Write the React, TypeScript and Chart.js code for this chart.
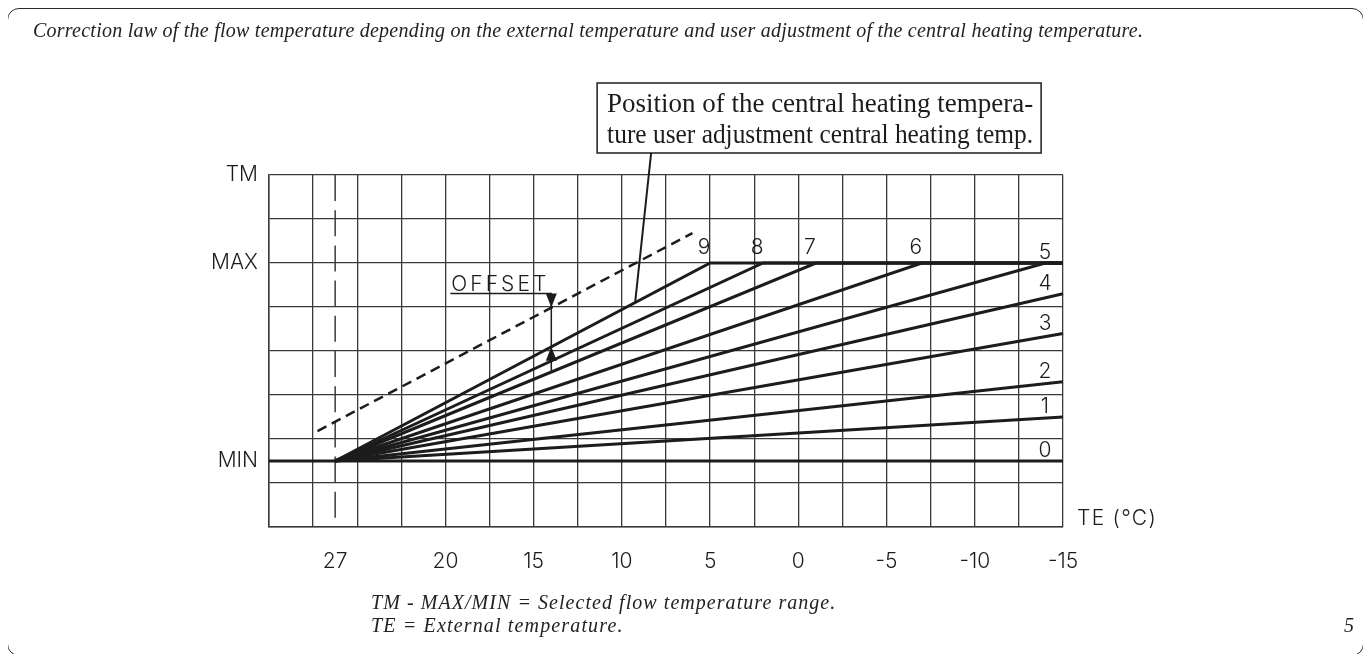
import React, { useEffect, useRef } from 'react';
import { Chart, registerables } from 'chart.js';

Chart.register(...registerables);

// ---------------- data ----------------
const TE_AXIS_MIN = -15;
const TE_AXIS_MAX = 30;
const TE_GRID_STEP = 2.5;
const TE_TICK_VALUES = [26.25, 20, 15, 10, 5, 0, -5, -10, -15];
const TE_TICK_LABELS = ['27', '20', '15', '10', '5', '0', '-5', '-10', '-15'];

const TM_AXIS_MIN = 0;
const TM_AXIS_MAX = 8;
const TM_TICK_VALUES = [8, 6, 1.5];
const TM_TICK_LABELS = ['TM', 'MAX', 'MIN'];

const CURVE_NAMES = ['0', '1', '2', '3', '4', '5', '6', '7', '8', '9'];
const START_TE = 26.25; // the "27" origin of all curves
const MIN_TM = 1.5;
const MAX_TM = 6;
const LOW_CURVE_END_TM = [1.5, 2.5, 3.3, 4.4, 5.3]; // curves 0-4 at TE = -15
const HIGH_CURVE_KNEE_TE = [-14, -7, -1, 2, 5]; // curves 5-9 reach MAX here
const OFFSET_LINE_TE = [27.25, 6];
const OFFSET_LINE_TM = [2.18, 6.68];
const OFFSET_MARK_TE = 14;
const CALLOUT_TE = 9.25;

const CALLOUT_LINES = [
  'Position of the central heating tempera-',
  'ture user adjustment central heating temp.',
];
const TITLE =
  'Correction law of the flow temperature depending on the external temperature and user adjustment of the central heating temperature.';
const NOTES = ['TM - MAX/MIN = Selected flow temperature range.', 'TE = External temperature.'];
const PAGE_NUMBER = '5';
const X_UNIT = 'TE (°C)';
const OFFSET_LABEL = 'OFFSET';

// ---------------- derived series ----------------
type P = { x: number; y: number };
const CURVES: P[][] = CURVE_NAMES.map((_, i) => {
  if (i === 0) return [{ x: TE_AXIS_MAX, y: MIN_TM }, { x: TE_AXIS_MIN, y: LOW_CURVE_END_TM[0] }];
  if (i < 5) return [{ x: START_TE, y: MIN_TM }, { x: TE_AXIS_MIN, y: LOW_CURVE_END_TM[i] }];
  return [
    { x: START_TE, y: MIN_TM },
    { x: HIGH_CURVE_KNEE_TE[i - 5], y: MAX_TM },
    { x: TE_AXIS_MIN, y: MAX_TM },
  ];
});
const OFFSET_LINE: P[] = OFFSET_LINE_TE.map((x, i) => ({ x, y: OFFSET_LINE_TM[i] }));
const START_MARK: P[] = [{ x: START_TE, y: TM_AXIS_MAX }, { x: START_TE, y: TM_AXIS_MIN }];

// ---------------- styles ----------------
const INK = '#1c1c1c';
const GRID = '#3a3a3a';
const SANS_FAMILY = 'Inter, "DejaVu Sans", sans-serif';
const SANS = `300 21px ${SANS_FAMILY}`;
const SERIF = '"Liberation Serif", "DejaVu Serif", serif';

const near = (a: number, b: number) => Math.abs(a - b) < 1e-6;

function interp(pts: P[], v: number): number {
  for (let i = 0; i < pts.length - 1; i++) {
    const a = pts[i], b = pts[i + 1];
    const lo = Math.min(a.x, b.x), hi = Math.max(a.x, b.x);
    if (v >= lo && v <= hi) {
      const t = (v - a.x) / (b.x - a.x);
      return a.y + t * (b.y - a.y);
    }
  }
  return pts[pts.length - 1].y;
}

function fitText(ctx: CanvasRenderingContext2D, text: string, x: number, y: number, width: number) {
  const w = ctx.measureText(text).width;
  ctx.save();
  ctx.translate(x, y);
  ctx.scale(width / w, 1);
  ctx.fillText(text, 0, 0);
  ctx.restore();
}

function spacedText(ctx: CanvasRenderingContext2D, text: string, x: number, y: number, width: number) {
  ctx.save();
  (ctx as any).letterSpacing = '0px';
  const w = ctx.measureText(text).width;
  const ls = (width - w) / text.length;
  (ctx as any).letterSpacing = `${ls}px`;
  ctx.fillText(text, x, y);
  ctx.restore();
}

const annotatePlugin = {
  id: 'annotate',
  afterDatasetsDraw(chart: any) {
    const { ctx, chartArea } = chart;
    const xs = chart.scales.x;
    const ys = chart.scales.y;
    const px = (v: number) => xs.getPixelForValue(v);
    const py = (v: number) => ys.getPixelForValue(v);
    ctx.save();
    ctx.fillStyle = INK;
    ctx.strokeStyle = INK;

    // curve numbers
    ctx.font = SANS;
    ctx.textAlign = 'center';
    ctx.textBaseline = 'middle';
    CURVES.forEach((pts, i) => {
      const atEnd = i <= 5;
      const a = atEnd ? pts[pts.length - 1] : pts[1];
      ctx.fillText(CURVE_NAMES[i], px(a.x) + (atEnd ? -18 : -6), py(a.y) + (atEnd ? -10 : -15));
    });

    // axis unit
    ctx.textAlign = 'left';
    spacedText(ctx, X_UNIT, chartArea.right + 14, chartArea.bottom - 8, 80);

    // OFFSET dimension
    const ax = px(OFFSET_MARK_TE);
    const tipTop = py(interp(OFFSET_LINE, OFFSET_MARK_TE));
    const tipBot = py(interp(CURVES[9], OFFSET_MARK_TE));
    const head = 14;
    const half = 5.5;
    const lineY = tipTop - head;
    ctx.lineWidth = 1.5;
    ctx.beginPath();
    ctx.moveTo(ax - 101, lineY);
    ctx.lineTo(ax, lineY);
    ctx.lineTo(ax, tipBot + 24);
    ctx.stroke();
    ctx.beginPath();
    ctx.moveTo(ax, tipTop);
    ctx.lineTo(ax - half, tipTop - head);
    ctx.lineTo(ax + half, tipTop - head);
    ctx.closePath();
    ctx.fill();
    ctx.beginPath();
    ctx.moveTo(ax, tipBot);
    ctx.lineTo(ax - half, tipBot + head);
    ctx.lineTo(ax + half, tipBot + head);
    ctx.closePath();
    ctx.fill();
    ctx.textBaseline = 'alphabetic';
    spacedText(ctx, OFFSET_LABEL, ax - 100, lineY - 3, 98);

    // callout box + leader
    const lx = px(CALLOUT_TE);
    const ly = py(interp(CURVES[9], CALLOUT_TE));
    const boxB = chartArea.top - 22;
    const boxT = boxB - 70;
    const topX = lx + 16;
    const boxL = topX - 54;
    const boxR = topX + 390;
    ctx.lineWidth = 2;
    ctx.beginPath();
    ctx.moveTo(lx, ly);
    ctx.lineTo(topX, boxB);
    ctx.stroke();
    ctx.lineWidth = 1.5;
    ctx.strokeRect(boxL, boxT, boxR - boxL, boxB - boxT);
    ctx.font = `27px ${SERIF}`;
    ctx.textAlign = 'left';
    fitText(ctx, CALLOUT_LINES[0], boxL + 10, boxT + 29, boxR - boxL - 18);
    fitText(ctx, CALLOUT_LINES[1], boxL + 10, boxT + 60, boxR - boxL - 18);
    ctx.restore();
  },
};

export default function App() {
  const ref = useRef<HTMLCanvasElement | null>(null);

  useEffect(() => {
    if (!ref.current) return;
    const lineDs = (data: P[], extra: any = {}) => ({
      data,
      borderColor: INK,
      borderWidth: 3,
      pointRadius: 0,
      fill: false,
      tension: 0,
      clip: 4,
      borderJoinStyle: 'miter',
      ...extra,
    });
    const chart = new Chart(ref.current, {
      type: 'line',
      data: {
        datasets: [
          ...CURVES.map((c, i) => lineDs(c, { label: `Curve ${CURVE_NAMES[i]}` })),
          lineDs(OFFSET_LINE, { label: 'Offset', borderWidth: 2.5, borderDash: [10, 6] }),
          lineDs(START_MARK, { label: '27', borderWidth: 1.5, borderColor: GRID, borderDash: [26, 9.2], order: 5 }),
        ],
      },
      options: {
        responsive: false,
        animation: false,
        parsing: true,
        layout: { padding: { left: 201, right: 300, top: 167, bottom: 77 } },
        plugins: { legend: { display: false }, tooltip: { enabled: false } },
        scales: {
          x: {
            type: 'linear',
            reverse: true,
            min: TE_AXIS_MIN,
            max: TE_AXIS_MAX,
            afterFit: (s: any) => {
              s.height = 50;
            },
            ticks: {
              stepSize: TE_GRID_STEP / 2,
              autoSkip: false,
              maxRotation: 0,
              minRotation: 0,
              padding: 22,
              color: INK,
              font: { family: SANS_FAMILY, size: 21, weight: '300' },
              callback: (v: any) => {
                const i = TE_TICK_VALUES.findIndex((t) => near(t, Number(v)));
                return i >= 0 ? TE_TICK_LABELS[i] : '';
              },
            },
            grid: {
              drawTicks: false,
              lineWidth: 1.3,
              color: (c: any) => {
                const v = c.tick ? c.tick.value : NaN;
                const k = (v - TE_AXIS_MIN) / TE_GRID_STEP;
                return near(k, Math.round(k)) ? GRID : 'rgba(0,0,0,0)';
              },
            },
            border: { display: true, color: GRID, width: 1.5 },
          },
          y: {
            type: 'linear',
            min: TM_AXIS_MIN,
            max: TM_AXIS_MAX,
            afterFit: (s: any) => {
              s.width = 60;
            },
            ticks: {
              stepSize: 0.5,
              autoSkip: false,
              padding: 11,
              color: INK,
              font: { family: SANS_FAMILY, size: 21, weight: '300' },
              callback: (v: any) => {
                const i = TM_TICK_VALUES.findIndex((t) => near(t, Number(v)));
                return i >= 0 ? TM_TICK_LABELS[i] : '';
              },
            },
            grid: {
              drawTicks: false,
              lineWidth: 1.3,
              color: (c: any) => {
                const v = c.tick ? c.tick.value : NaN;
                return near(v, Math.round(v)) ? GRID : 'rgba(0,0,0,0)';
              },
            },
            border: { display: true, color: GRID, width: 1.5 },
          },
        },
      } as any,
      plugins: [annotatePlugin],
    });
    return () => chart.destroy();
  }, []);

  const italic: React.CSSProperties = {
    position: 'absolute',
    fontFamily: SERIF,
    fontStyle: 'italic',
    color: '#222',
    whiteSpace: 'nowrap',
    lineHeight: '22px',
    fontSize: 20,
  };

  return (
    <div style={{ position: 'relative', width: 1355, height: 646 }}>
      <div
        style={{
          position: 'absolute',
          left: -1,
          top: 0,
          width: 1357,
          height: 648,
          border: '1.5px solid #2a2a2a',
          borderRadius: 12,
          boxSizing: 'border-box',
        }}
      />
      <canvas
        ref={ref}
        width={1355}
        height={646}
        style={{ position: 'absolute', left: 0, top: 0, width: 1355, height: 646 }}
      />
      <div style={{ ...italic, left: 25, top: 11, letterSpacing: '0.24px' }}>{TITLE}</div>
      <div style={{ ...italic, left: 363, top: 583, letterSpacing: '1.05px' }}>{NOTES[0]}</div>
      <div style={{ ...italic, left: 363, top: 606, letterSpacing: '1.15px' }}>{NOTES[1]}</div>
      <div style={{ ...italic, left: 1336, top: 606 }}>{PAGE_NUMBER}</div>
    </div>
  );
}
